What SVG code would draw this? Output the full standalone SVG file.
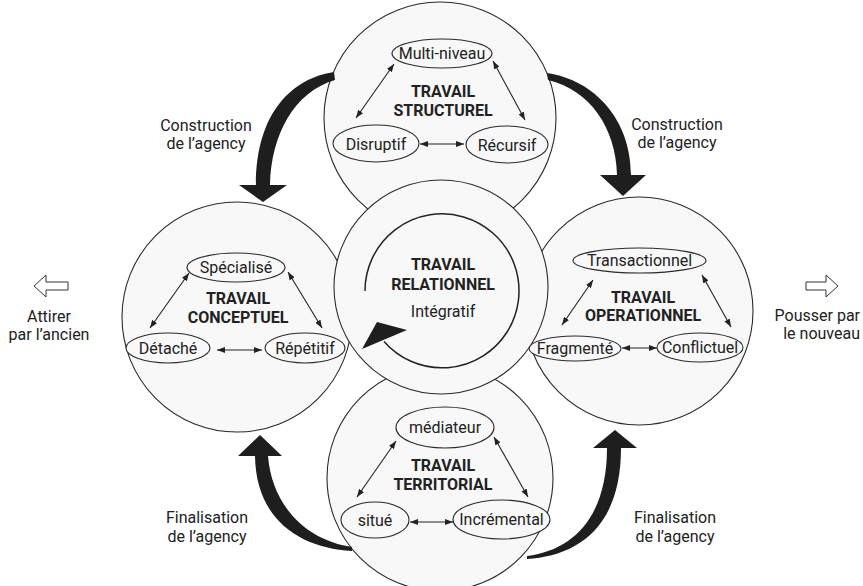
<svg xmlns="http://www.w3.org/2000/svg" width="863" height="586" viewBox="0 0 863 586">
<style>
.big{fill:#f8f8f8;stroke:#2a2a2a;stroke-width:1.1}
.el{fill:#f8f8f8;stroke:#2a2a2a;stroke-width:1.1}
.t{font-family:Roboto,"Liberation Sans",sans-serif;font-size:16px;fill:#222;text-anchor:middle}
.b{font-family:Roboto,"Liberation Sans",sans-serif;font-size:16px;font-weight:bold;fill:#222;text-anchor:middle}
.dbl{stroke:#222;stroke-width:1.1;fill:none;marker-start:url(#ah);marker-end:url(#ah)}
.fat{fill:#1e1e1e;stroke:none}
.side{fill:#fff;stroke:#333;stroke-width:1}
</style>
<defs>
<marker id="ah" viewBox="0 0 8 6" refX="8" refY="3" markerWidth="8" markerHeight="6" markerUnits="userSpaceOnUse" orient="auto-start-reverse">
<path d="M0 0 L8 3 L0 6 Z" fill="#222"/>
</marker>
</defs>
<rect width="863" height="586" fill="#fff"/>

<g id="circles">
<circle class="big" cx="440" cy="118" r="116"/>
<circle class="big" cx="237" cy="317" r="115"/>
<circle class="big" cx="639" cy="311" r="114"/>
<circle class="big" cx="440" cy="478" r="113"/>
<circle class="big" cx="441" cy="287" r="107"/>
</g>

<g id="connectors">
<path class="fat" d="M334 72 C293 78 256 112 256 185 L239 185 L263 202 L287 185 L270 185 C271 135 294 92 335 80 Z"/>
<path class="fat" d="M547 73 C595 80 631 120 631 175 L646 175 L623 196 L600 175 L617 175 C616 128 590 90 548 80 Z"/>
<path class="fat" d="M352 551 C300 548 256 520 255 456 L238 456 L260 435 L282 456 L268 456 C272 505 305 540 352 547 Z"/>
<path class="fat" d="M527 559 C575 556 621 530 621 448 L637 448 L615 430 L593 448 L607 448 C607 515 575 550 527 556 Z"/>
<path d="M365 291 A77 77 0 1 1 384 341.5" fill="none" stroke="#222" stroke-width="1.5"/>
<polygon class="fat" points="362,349 377,322 407,330"/>
<line class="dbl" x1="394" y1="64" x2="356" y2="118"/>
<line class="dbl" x1="493" y1="61" x2="525" y2="120"/>
<line class="dbl" x1="420" y1="144" x2="464" y2="144"/>
<line class="dbl" x1="189" y1="273" x2="150" y2="328"/>
<line class="dbl" x1="288" y1="272" x2="322" y2="328"/>
<line class="dbl" x1="217" y1="350" x2="262" y2="350"/>
<line class="dbl" x1="593" y1="280" x2="562" y2="325"/>
<line class="dbl" x1="702" y1="275" x2="731" y2="327"/>
<line class="dbl" x1="622" y1="348" x2="657" y2="348"/>
<line class="dbl" x1="396" y1="441" x2="357" y2="497"/>
<line class="dbl" x1="494" y1="437" x2="528" y2="497"/>
<line class="dbl" x1="410" y1="522" x2="453" y2="522"/>
</g>

<g id="structurel">
<text class="b" x="443" y="97">TRAVAIL</text>
<text class="b" x="443" y="116">STRUCTUREL</text>
</g>
<g id="multi-niveau"><ellipse class="el" cx="442" cy="53.5" rx="50" ry="14.5"/><text class="t" x="442" y="59">Multi-niveau</text></g>
<g id="disruptif"><ellipse class="el" cx="376" cy="143.5" rx="43" ry="18.5"/><text class="t" x="376" y="149.5">Disruptif</text></g>
<g id="recursif"><ellipse class="el" cx="507" cy="144.5" rx="41" ry="18.5"/><text class="t" x="507" y="150.5">Récursif</text></g>

<g id="conceptuel">
<text class="b" x="238" y="304">TRAVAIL</text>
<text class="b" x="238" y="323">CONCEPTUEL</text>
</g>
<g id="specialise"><ellipse class="el" cx="236" cy="267.5" rx="49" ry="14.5"/><text class="t" x="236" y="273">Spécialisé</text></g>
<g id="detache"><ellipse class="el" cx="168" cy="348" rx="42" ry="15"/><text class="t" x="168" y="353.5">Détaché</text></g>
<g id="repetitif"><ellipse class="el" cx="305" cy="348" rx="40" ry="15"/><text class="t" x="305" y="353.5">Répétitif</text></g>

<g id="relationnel">
<text class="b" x="443" y="270">TRAVAIL</text>
<text class="b" x="443" y="290">RELATIONNEL</text>
<text class="t" x="443" y="317">Intégratif</text>
</g>

<g id="operationnel">
<text class="b" x="643" y="303">TRAVAIL</text>
<text class="b" x="643" y="321">OPERATIONNEL</text>
</g>
<g id="transactionnel"><ellipse class="el" cx="639.5" cy="260.5" rx="66.5" ry="12.5"/><text class="t" x="639.5" y="266">Transactionnel</text></g>
<g id="fragmente"><ellipse class="el" cx="575" cy="348.5" rx="46" ry="12.5"/><text class="t" x="575" y="354">Fragmenté</text></g>
<g id="conflictuel"><ellipse class="el" cx="700" cy="347.5" rx="43" ry="14.5"/><text class="t" x="700" y="353">Conflictuel</text></g>

<g id="territorial">
<text class="b" x="443" y="471">TRAVAIL</text>
<text class="b" x="443" y="490">TERRITORIAL</text>
</g>
<g id="mediateur"><ellipse class="el" cx="445" cy="427.5" rx="49" ry="20.5"/><text class="t" x="445" y="433">médiateur</text></g>
<g id="situe"><ellipse class="el" cx="375" cy="520" rx="34" ry="18"/><text class="t" x="375" y="525.5">situé</text></g>
<g id="incremental"><ellipse class="el" cx="501.5" cy="519.5" rx="48.5" ry="19.5"/><text class="t" x="501.5" y="525">Incrémental</text></g>

<g id="labels">
<text class="t" x="206" y="131">Construction</text>
<text class="t" x="206" y="149">de l’agency</text>
<text class="t" x="677" y="130">Construction</text>
<text class="t" x="677" y="148">de l’agency</text>
<text class="t" x="207" y="523">Finalisation</text>
<text class="t" x="207" y="542">de l’agency</text>
<text class="t" x="675" y="523">Finalisation</text>
<text class="t" x="675" y="542">de l’agency</text>
</g>
<g id="attirer">
<polygon class="side" points="68,282 46,282 46,275 34,286 46,297 46,290 68,290"/>
<text class="t" x="49" y="322">Attirer</text>
<text class="t" x="49" y="340">par l’ancien</text>
</g>
<g id="pousser">
<polygon class="side" points="806,282 826,282 826,275 838,286 826,297 826,290 806,290"/>
<text class="t" x="860" y="321" style="text-anchor:end">Pousser par</text>
<text class="t" x="860" y="339" style="text-anchor:end">le nouveau</text>
</g>
</svg>
